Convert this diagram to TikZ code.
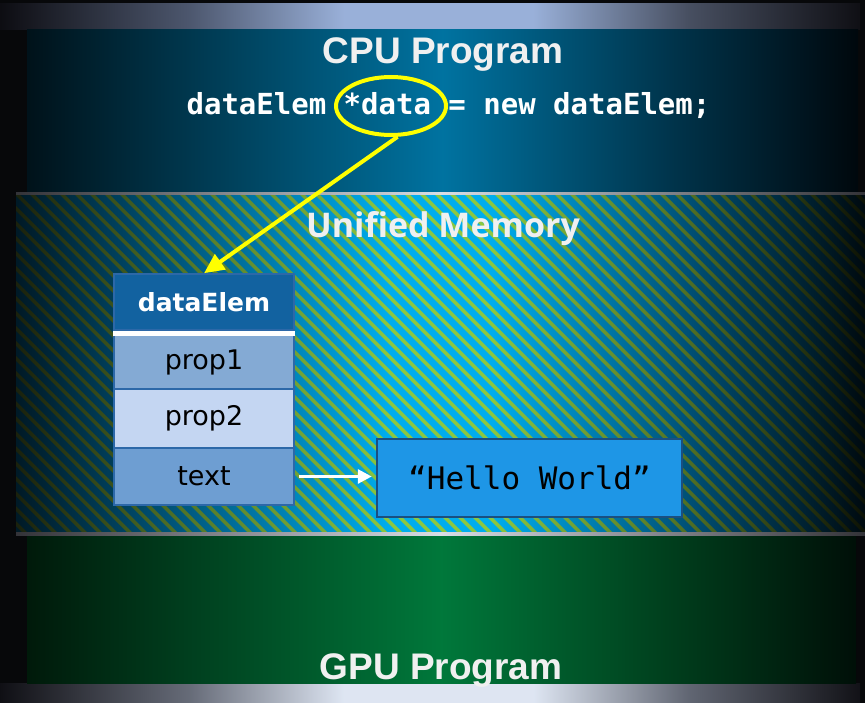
\documentclass[tikz,border=0pt]{standalone}
\usepackage{fontspec}
\usetikzlibrary{arrows.meta,shapes.geometric}
\newfontfamily\titlefont{Liberation Sans}
\newfontfamily\codefont{DejaVu Sans Mono}
\newfontfamily\memfont{Open Sans}
\newfontfamily\cellfont{DejaVu Sans}
\definecolor{bgdark}{HTML}{07080A}
\definecolor{hdrblue}{HTML}{1262A0}
\definecolor{cellA}{HTML}{84AAD4}
\definecolor{cellB}{HTML}{C4D6F2}
\definecolor{cellC}{HTML}{6E9ED2}
\definecolor{cellline}{HTML}{2C68A8}
\definecolor{hellofill}{HTML}{1E96E6}
\definecolor{helloline}{HTML}{1A4F80}
\definecolor{ptrYellow}{HTML}{FFFF00}
\definecolor{titlewhite}{HTML}{F0F0F0}
% stops mapped into 25bp..75bp (TikZ fits that range to the path)
\pgfdeclarehorizontalshading{topstrip}{100bp}{rgb(0bp)=(0.05,0.05,0.07); rgb(25bp)=(0.05,0.05,0.07); rgb(36bp)=(0.3,0.34,0.43); rgb(45bp)=(0.6,0.69,0.85); rgb(56bp)=(0.6,0.69,0.85); rgb(65bp)=(0.28,0.31,0.38); rgb(75bp)=(0.06,0.06,0.08); rgb(100bp)=(0.06,0.06,0.08)}
\pgfdeclarehorizontalshading{botstrip}{100bp}{rgb(0bp)=(0.06,0.06,0.08); rgb(25bp)=(0.06,0.06,0.08); rgb(36bp)=(0.4,0.42,0.47); rgb(45bp)=(0.87,0.9,0.95); rgb(56bp)=(0.87,0.9,0.95); rgb(65bp)=(0.38,0.4,0.45); rgb(75bp)=(0.07,0.07,0.09); rgb(100bp)=(0.07,0.07,0.09)}
\pgfdeclarehorizontalshading{cpushade}{100bp}{rgb(0bp)=(0,0.07,0.1); rgb(25bp)=(0,0.07,0.1); rgb(35bp)=(0,0.22,0.31); rgb(50bp)=(0,0.45,0.63); rgb(64bp)=(0,0.2,0.29); rgb(75bp)=(0,0.03,0.05); rgb(100bp)=(0,0.03,0.05)}
\pgfdeclarehorizontalshading{gpushade}{100bp}{rgb(0bp)=(0,0.1,0.04); rgb(25bp)=(0,0.1,0.04); rgb(35bp)=(0,0.25,0.12); rgb(50bp)=(0,0.47,0.23); rgb(64bp)=(0,0.24,0.11); rgb(75bp)=(0,0.06,0.03); rgb(100bp)=(0,0.06,0.03)}
\pgfdeclarehorizontalshading{umblue}{100bp}{rgb(0bp)=(0,0.1,0.15); rgb(25bp)=(0,0.1,0.15); rgb(35bp)=(0,0.35,0.5); rgb(47bp)=(0,0.68,0.93); rgb(53bp)=(0,0.68,0.93); rgb(65bp)=(0,0.3,0.44); rgb(75bp)=(0,0.04,0.06); rgb(100bp)=(0,0.04,0.06)}
\pgfdeclarehorizontalshading{umgreen}{100bp}{rgb(0bp)=(0.1,0.13,0.05); rgb(25bp)=(0.1,0.13,0.05); rgb(35bp)=(0.32,0.46,0.16); rgb(47bp)=(0.55,0.78,0.25); rgb(53bp)=(0.55,0.78,0.25); rgb(65bp)=(0.3,0.42,0.14); rgb(75bp)=(0.05,0.07,0.02); rgb(100bp)=(0.05,0.07,0.02)}
\pgfdeclarehorizontalshading{sepline}{100bp}{rgb(0bp)=(0.2,0.2,0.22); rgb(25bp)=(0.2,0.2,0.22); rgb(50bp)=(0.85,0.87,0.9); rgb(75bp)=(0.2,0.2,0.22); rgb(100bp)=(0.2,0.2,0.22)}
\tikzset{
  titletext/.style={text=titlewhite, font=\titlefont\bfseries\fontsize{37}{40}\selectfont, anchor=base, inner sep=0pt},
  codetext/.style={text=white, font=\codefont\bfseries\fontsize{29}{31}\selectfont, anchor=base, inner sep=0pt},
  memtext/.style={text=titlewhite, font=\memfont\bfseries\fontsize{34}{36}\selectfont, anchor=base, inner sep=0pt},
  cell/.style={draw=cellline, line width=1.5pt, minimum width=180pt, inner sep=0pt, text=black, font=\cellfont\fontsize{27}{29}\selectfont},
  ptr/.style={draw=ptrYellow, line width=4pt, -{Triangle[length=20pt,width=18pt]}},
  warrow/.style={draw=white, line width=3pt, -{Triangle[length=14pt,width=14pt]}}
}
\begin{document}
\begin{tikzpicture}[x=1pt,y=-1pt]
\useasboundingbox (0,0) rectangle (865,703);
\fill[bgdark] (0,0) rectangle (865,703);
% top and bottom strips
\shade[shading=topstrip] (0,4) rectangle (860,30);
\shade[shading=botstrip] (0,683) rectangle (860,703);
% CPU panel
\shade[shading=cpushade] (27,30) rectangle (858,193);
% GPU panel
\shade[shading=gpushade] (27,535) rectangle (856,683);
% Unified memory band
\begin{scope}
\clip (16,195) rectangle (865,533);
\shade[shading=umblue] (16,195) rectangle (865,533);
\clip foreach \i in {-360,-345,...,870} {(\i,195) -- (\i+5,195) -- (\i+343,533) -- (\i+338,533) -- cycle};
\shade[shading=umgreen] (16,195) rectangle (865,533);
\end{scope}
\shade[shading=sepline] (16,192.5) rectangle (865,195);
\shade[shading=sepline] (16,532) rectangle (865,535);
% titles
\node[titletext] (cpu) at (443,64) {CPU Program};
\node[memtext] (um) at (443,238) {Unified Memory};
\node[titletext] (gpu) at (441,679) {GPU Program};
% code line
\node[codetext] (code) at (448.5,115) {dataElem *data = new dataElem;};
\node[draw=ptrYellow, line width=4pt, ellipse, minimum width=110pt, minimum height=58pt, inner sep=0pt] (ell) at (391,106) {};
% table
\node[cell, fill=hdrblue, minimum height=56pt, text=white, font=\cellfont\bfseries\fontsize{25}{28}\selectfont] (hdr) at (204,302) {dataElem};
\node[cell, fill=cellA, minimum height=54pt] (p1) at (204,362) {prop1};
\node[cell, fill=cellB, minimum height=59pt] (p2) at (204,418.5) {prop2};
\node[cell, fill=cellC, minimum height=57pt] (tx) at (204,476.5) {text};
\fill[white] (hdr.south west) rectangle ([yshift=-5pt]hdr.south east);
% hello box
\node[draw=helloline, line width=2.5pt, fill=hellofill, minimum width=305pt, minimum height=78pt, inner sep=0pt, text=black, font=\codefont\fontsize{31}{33}\selectfont] (hello) at (529.5,478) {“Hello World”};
% connectors
\draw[ptr] (ell.-78) -- (hdr.north);
\draw[warrow] ([xshift=4pt]tx.east) -- ([xshift=-4pt]tx.east -| hello.west);
\end{tikzpicture}
\end{document}
